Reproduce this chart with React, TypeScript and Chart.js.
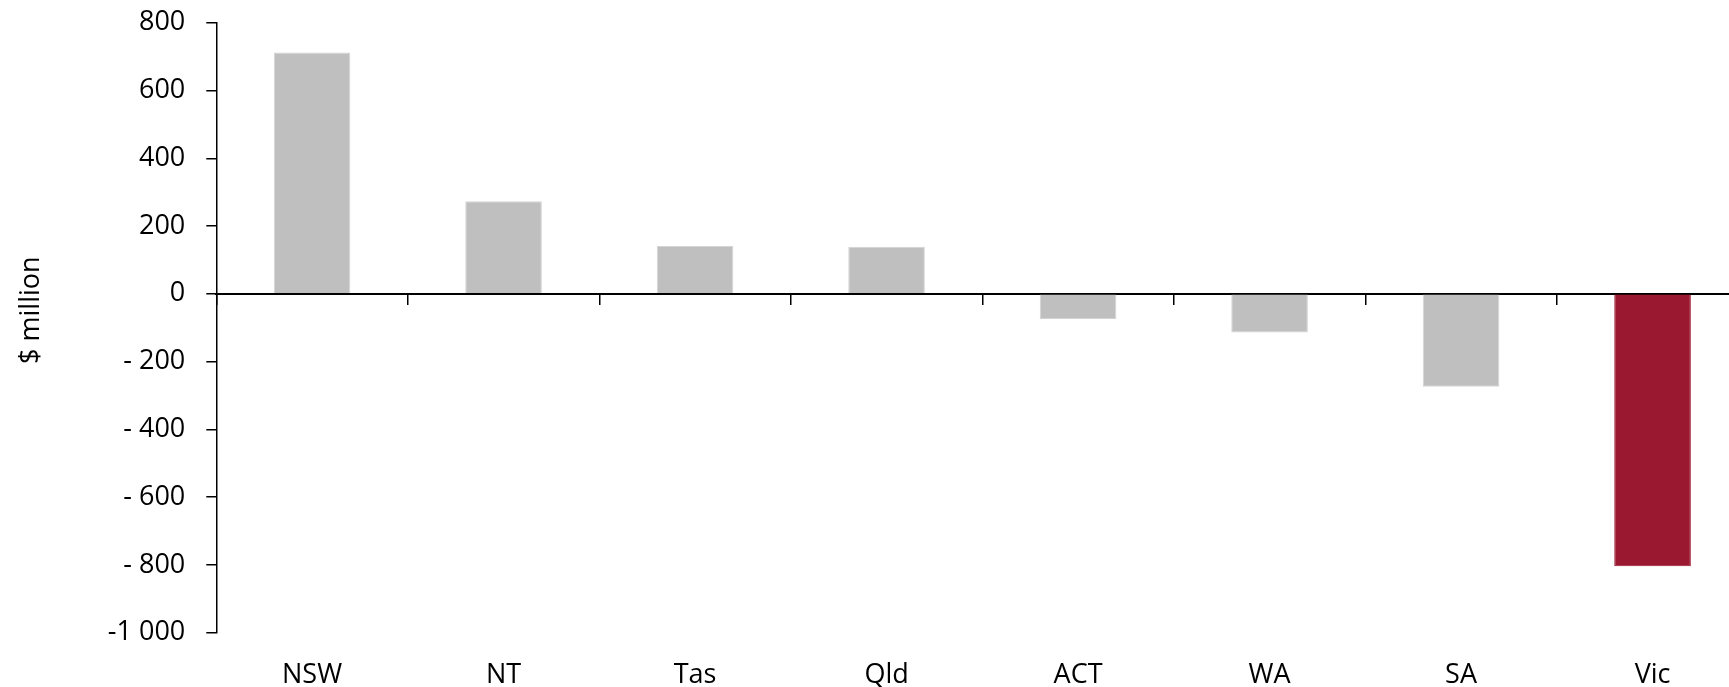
import React, { useEffect, useRef } from "react";
import { Chart, registerables } from "chart.js";

Chart.register(...registerables);

const categories = ["NSW", "NT", "Tas", "Qld", "ACT", "WA", "SA", "Vic"];
const values = [712, 273, 141, 139, -74, -114, -274, -804];
const barColors = ["#bfbfbf", "#bfbfbf", "#bfbfbf", "#bfbfbf", "#bfbfbf", "#bfbfbf", "#bfbfbf", "#9b1930"];
const barBorders = ["#d4d4d4", "#d4d4d4", "#d4d4d4", "#d4d4d4", "#d4d4d4", "#d4d4d4", "#d4d4d4", "#9b1930"];
const yTickValues = [-1000, -800, -600, -400, -200, 0, 200, 400, 600, 800];
const yTickLabels = ["-1 000", "- 800", "- 600", "- 400", "- 200", "0", "200", "400", "600", "800"];
const yTitle = "     $ million";

const FONT = "'Open Sans', sans-serif";

export default function App() {
  const ref = useRef<HTMLCanvasElement>(null);
  useEffect(() => {
    if (!ref.current) return;
    const chart = new Chart(ref.current, {
      type: "bar",
      data: {
        labels: categories,
        datasets: [
          {
            data: values,
            backgroundColor: barColors,
            borderColor: barBorders,
            borderWidth: 1,
            barPercentage: 0.4,
            categoryPercentage: 1,
            xAxisID: "x",
          },
        ],
      },
      options: {
        responsive: false,
        animation: false,
        layout: { padding: { top: 22.7, right: 11.7, left: 0, bottom: 0 } },
        plugins: { legend: { display: false }, tooltip: { enabled: false } },
        scales: {
          x: {
            type: "category",
            position: "bottom",
            offset: true,
            grid: { display: false },
            border: { display: false },
            ticks: { color: "#000", font: { family: FONT, size: 27 }, padding: 18, maxRotation: 0 },
            afterFit: (s: any) => { s.height = 54.3; s.paddingLeft = 0; s.paddingRight = 0; },
          },
          x2: {
            type: "category",
            position: { y: 0 },
            offset: true,
            grid: { offset: true, drawOnChartArea: false, drawTicks: true, tickLength: 10, color: "#000", lineWidth: 1.5 },
            border: { display: true, color: "#000", width: 2 },
            ticks: { display: false },
            afterFit: (s: any) => { s.height = 0; s.paddingLeft = 0; s.paddingRight = 0; },
          },
          y: {
            type: "linear",
            min: -1000,
            max: 800,
            afterBuildTicks: (s: any) => { s.ticks = yTickValues.map((v) => ({ value: v })); },
            afterFit: (s: any) => { s.width = 216.3; s.paddingTop = 0; s.paddingBottom = 0; },
            grid: { drawOnChartArea: false, drawTicks: true, tickLength: 10, color: "#000", lineWidth: 1.5 },
            border: { display: true, color: "#000", width: 1.5 },
            ticks: {
              color: "#000",
              font: { family: FONT, size: 27 },
              padding: 21,
              callback: (v: any) => {
                const i = yTickValues.indexOf(Number(v));
                return i >= 0 ? yTickLabels[i] : "";
              },
            },
            title: {
              display: true,
              text: yTitle,
              color: "#000",
              font: { family: FONT, size: 27 },
              padding: { top: 15, bottom: 0 },
            },
          },
        },
      },
    });
    return () => chart.destroy();
  }, []);
  return (
    <div style={{ position: "fixed", left: 0, top: 0, width: 1729, height: 687, overflow: "hidden", background: "#fff" }}>
      <canvas ref={ref} width={1760} height={687} style={{ display: "block" }} />
    </div>
  );
}
